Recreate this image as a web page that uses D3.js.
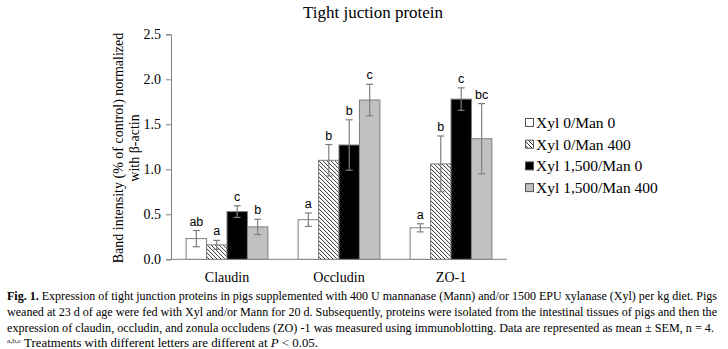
<!DOCTYPE html>
<html>
<head>
<meta charset="utf-8">
<script src="https://cdn.jsdelivr.net/npm/d3@7"></script>
<style>
  body { margin: 0; background: #fff; }
  svg { display: block; }
  text { font-family: "Liberation Serif", "Times New Roman", serif; }
</style>
</head>
<body>
<svg id="chart" width="728" height="349"></svg>
<script>
'use strict';

// data
let proteins = ['Claudin', 'Occludin', 'ZO-1'];
let treatments = ['Xyl 0/Man 0', 'Xyl 0/Man 400', 'Xyl 1,500/Man 0', 'Xyl 1,500/Man 400'];
let means = [
    [0.23, 0.16, 0.53, 0.36],
    [0.44, 1.10, 1.27, 1.77],
    [0.35, 1.06, 1.78, 1.34]
];
let sems = [
    [0.09, 0.05, 0.065, 0.085],
    [0.075, 0.175, 0.28, 0.175],
    [0.045, 0.31, 0.125, 0.39]
];
let letters = [
    ['ab', 'a', 'c', 'b'],
    ['a', 'b', 'b', 'c'],
    ['a', 'b', 'c', 'bc']
];
let yTicks = [0, 0.5, 1.0, 1.5, 2.0, 2.5];
let fills = ['#ffffff', 'url(#hatch)', '#000000', '#c0c0c0'];

let svg = d3.select('#chart');

// hatch pattern for second series
let pat = svg.append('defs').append('pattern')
    .attr('id', 'hatch')
    .attr('patternUnits', 'userSpaceOnUse')
    .attr('width', 4)
    .attr('height', 4);
pat.append('rect').attr('width', 4).attr('height', 4).attr('fill', '#fff');
pat.append('path')
    .attr('d', 'M-1,-1L5,5M3,-1L5,1M-1,3L1,5')
    .attr('stroke', '#333')
    .attr('stroke-width', 1);

let x0 = d3.scaleBand().domain(proteins).range([171, 507])
    .paddingInner(0.27).paddingOuter(0.135);
let x1 = d3.scaleBand().domain(d3.range(treatments.length)).range([0, x0.bandwidth()]);
let y = d3.scaleLinear().domain([0, 2.5]).range([259.3, 34.3]);

// title
svg.append('text')
    .attr('x', 373)
    .attr('y', 18)
    .attr('text-anchor', 'middle')
    .attr('style', 'font-size: 17px;')
    .text('Tight juction protein');

// y axis
let yAxis = svg.append('g')
    .attr('transform', 'translate(171,0)')
    .call(d3.axisLeft(y).tickValues(yTicks).tickFormat(d3.format('.1f')).tickSize(5).tickPadding(5));
yAxis.select('.domain').attr('stroke', '#808080');
yAxis.selectAll('.tick line').attr('stroke', '#808080');
yAxis.selectAll('.tick text')
    .attr('fill', '#000')
    .attr('style', 'font-size: 14px; font-family: "Liberation Serif", serif;');

// x axis baseline
svg.append('line')
    .attr('x1', 171).attr('x2', 507)
    .attr('y1', y(0)).attr('y2', y(0))
    .attr('stroke', '#808080');

proteins.forEach(function(p) {
    svg.append('text')
        .attr('x', x0(p) + x0.bandwidth() / 2)
        .attr('y', 282)
        .attr('text-anchor', 'middle')
        .attr('style', 'font-size: 14px;')
        .text(p);
});

// y label
let ylab = svg.append('text')
    .attr('transform', 'translate(123,' + 148 + ') rotate(-90)')
    .attr('text-anchor', 'middle')
    .attr('style', 'font-size: 14px;');
ylab.append('tspan').attr('x', 0).attr('y', 0).text('Band intensity (% of control) normalized');
ylab.append('tspan').attr('x', 0).attr('y', 15.5).text('with β-actin');

// bars
proteins.forEach(function(p, i) {
    let g = svg.append('g').attr('transform', 'translate(' + x0(p) + ',0)');
    treatments.forEach(function(t, j) {
        let v = means[i][j];
        let s = sems[i][j];
        let bx = x1(j);
        let bw = x1.bandwidth();
        let cx = bx + bw / 2;
        g.append('rect')
            .attr('x', bx)
            .attr('y', y(v))
            .attr('width', bw)
            .attr('height', y(0) - y(v))
            .attr('fill', fills[j])
            .attr('stroke', '#7f7f7f')
            .attr('stroke-width', 1);
        // error bar
        g.append('line')
            .attr('x1', cx).attr('x2', cx)
            .attr('y1', y(v + s)).attr('y2', y(v - s))
            .attr('stroke', '#7f7f7f').attr('stroke-width', 1.2);
        [v + s, v - s].forEach(function(e) {
            g.append('line')
                .attr('x1', cx - 3.5).attr('x2', cx + 3.5)
                .attr('y1', y(e)).attr('y2', y(e))
                .attr('stroke', '#7f7f7f').attr('stroke-width', 1.2);
        });
        g.append('text')
            .attr('x', cx)
            .attr('y', y(v + s) - 5)
            .attr('text-anchor', 'middle')
            .attr('style', 'font-size: 12.5px; font-family: "Liberation Sans", Arial, sans-serif;')
            .text(letters[i][j]);
    });
});

// legend
treatments.forEach(function(t, j) {
    let ly = 123 + j * 21.7;
    svg.append('rect')
        .attr('x', 525.5).attr('y', ly - 4.5)
        .attr('width', 8).attr('height', 8)
        .attr('fill', fills[j])
        .attr('stroke', '#555');
    svg.append('text')
        .attr('x', 536)
        .attr('y', ly + 5)
        .attr('style', 'font-size: 15.5px;')
        .text(t);
});

// caption
let capX = 7;
let capRight = 717;
let capY = [300, 316, 332, 347];
let cap = svg.append('g').attr('style', 'font-size: 12px;');

let l1 = cap.append('text').attr('x', capX).attr('y', capY[0])
    .attr('textLength', capRight - capX).attr('lengthAdjust', 'spacingAndGlyphs');
l1.append('tspan').attr('font-weight', 'bold').text('Fig. 1. ');
l1.append('tspan').text('Expression of tight junction proteins in pigs supplemented with 400 U mannanase (Mann) and/or 1500 EPU xylanase (Xyl) per kg diet. Pigs');

cap.append('text').attr('x', capX).attr('y', capY[1])
    .attr('textLength', capRight - capX).attr('lengthAdjust', 'spacingAndGlyphs')
    .text('weaned at 23 d of age were fed with Xyl and/or Mann for 20 d. Subsequently, proteins were isolated from the intestinal tissues of pigs and then the');

cap.append('text').attr('x', capX).attr('y', capY[2])
    .attr('textLength', 714 - capX).attr('lengthAdjust', 'spacingAndGlyphs')
    .text('expression of claudin, occludin, and zonula occludens (ZO) -1 was measured using immunoblotting. Data are represented as mean  ±  SEM, n = 4.');

let l4 = cap.append('text').attr('x', capX).attr('y', capY[3])
    .attr('textLength', 318 - capX).attr('lengthAdjust', 'spacingAndGlyphs');
l4.append('tspan').attr('font-size', '7px').attr('dy', -4).text('a,b,c');
l4.append('tspan').attr('dy', 4).text(' Treatments with different letters are different at ');
l4.append('tspan').attr('font-style', 'italic').text('P');
l4.append('tspan').text('  <  0.05.');
</script>
</body>
</html>
